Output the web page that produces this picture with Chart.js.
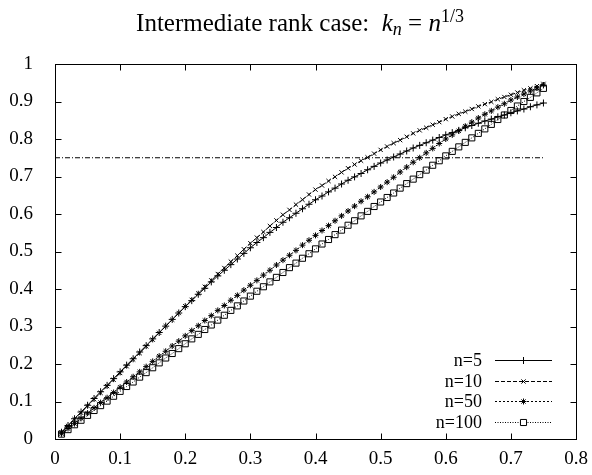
<!DOCTYPE html>
<html>
<head>
<meta charset="utf-8">
<title>Intermediate rank case</title>
<script src="https://cdn.jsdelivr.net/npm/chart.js@4.4.1/dist/chart.umd.min.js"></script>
<style>
  html, body { margin: 0; padding: 0; background: #fff; }
</style>
</head>
<body>
<canvas id="rankChart" width="592" height="475"></canvas>
<script>
// Sample positions (x) shared by all four curves
const xValues = [
  0.01, 0.02, 0.03, 0.04, 0.05, 0.06, 0.07, 0.08, 0.09, 0.10,
  0.11, 0.12, 0.13, 0.14, 0.15, 0.16, 0.17, 0.18, 0.19, 0.20,
  0.21, 0.22, 0.23, 0.24, 0.25, 0.26, 0.27, 0.28, 0.29, 0.30,
  0.31, 0.32, 0.33, 0.34, 0.35, 0.36, 0.37, 0.38, 0.39, 0.40,
  0.41, 0.42, 0.43, 0.44, 0.45, 0.46, 0.47, 0.48, 0.49, 0.50,
  0.51, 0.52, 0.53, 0.54, 0.55, 0.56, 0.57, 0.58, 0.59, 0.60,
  0.61, 0.62, 0.63, 0.64, 0.65, 0.66, 0.67, 0.68, 0.69, 0.70,
  0.71, 0.72, 0.73, 0.74, 0.75
];

// Values
const n5 = [
  0.018, 0.036, 0.054, 0.072, 0.090, 0.108, 0.126, 0.143, 0.161, 0.179,
  0.197, 0.214, 0.232, 0.249, 0.267, 0.284, 0.301, 0.319, 0.336, 0.353,
  0.369, 0.386, 0.402, 0.419, 0.435, 0.450, 0.465, 0.480, 0.495, 0.510,
  0.524, 0.537, 0.551, 0.564, 0.578, 0.590, 0.602, 0.614, 0.626, 0.638,
  0.648, 0.659, 0.669, 0.680, 0.690, 0.699, 0.708, 0.718, 0.727, 0.736,
  0.744, 0.752, 0.760, 0.768, 0.776, 0.783, 0.790, 0.797, 0.804, 0.811,
  0.817, 0.823, 0.830, 0.836, 0.842, 0.848, 0.853, 0.859, 0.864, 0.870,
  0.875, 0.880, 0.886, 0.891, 0.896
];
const n10 = [
  0.018, 0.035, 0.053, 0.070, 0.088, 0.106, 0.123, 0.141, 0.158, 0.176,
  0.194, 0.212, 0.229, 0.247, 0.265, 0.283, 0.301, 0.318, 0.336, 0.354,
  0.371, 0.388, 0.406, 0.423, 0.440, 0.456, 0.473, 0.489, 0.506, 0.522,
  0.537, 0.552, 0.568, 0.583, 0.598, 0.611, 0.625, 0.638, 0.652, 0.665,
  0.676, 0.688, 0.699, 0.711, 0.722, 0.732, 0.742, 0.751, 0.761, 0.771,
  0.780, 0.789, 0.797, 0.806, 0.815, 0.823, 0.830, 0.838, 0.845, 0.853,
  0.860, 0.867, 0.873, 0.880, 0.887, 0.893, 0.899, 0.906, 0.912, 0.918,
  0.924, 0.930, 0.935, 0.941, 0.947
];
const n50 = [
  0.014, 0.028, 0.041, 0.055, 0.069, 0.083, 0.097, 0.110, 0.124, 0.138,
  0.152, 0.166, 0.179, 0.193, 0.207, 0.221, 0.234, 0.248, 0.261, 0.275,
  0.289, 0.302, 0.316, 0.329, 0.343, 0.356, 0.370, 0.383, 0.397, 0.410,
  0.423, 0.437, 0.450, 0.464, 0.477, 0.490, 0.503, 0.517, 0.530, 0.543,
  0.556, 0.569, 0.582, 0.595, 0.608, 0.621, 0.634, 0.646, 0.659, 0.672,
  0.685, 0.698, 0.712, 0.725, 0.738, 0.750, 0.763, 0.775, 0.788, 0.800,
  0.811, 0.822, 0.834, 0.845, 0.856, 0.866, 0.875, 0.885, 0.894, 0.904,
  0.912, 0.920, 0.928, 0.936, 0.944
];
const n100 = [
  0.013, 0.025, 0.038, 0.050, 0.063, 0.076, 0.089, 0.101, 0.114, 0.127,
  0.140, 0.152, 0.165, 0.177, 0.190, 0.203, 0.216, 0.228, 0.241, 0.254,
  0.267, 0.279, 0.292, 0.304, 0.317, 0.330, 0.343, 0.355, 0.368, 0.381,
  0.394, 0.406, 0.419, 0.431, 0.444, 0.457, 0.469, 0.482, 0.494, 0.507,
  0.520, 0.532, 0.545, 0.557, 0.570, 0.582, 0.595, 0.607, 0.620, 0.632,
  0.644, 0.656, 0.669, 0.681, 0.693, 0.705, 0.717, 0.730, 0.742, 0.755,
  0.767, 0.779, 0.791, 0.803, 0.815, 0.827, 0.839, 0.852, 0.864, 0.876,
  0.888, 0.900, 0.911, 0.923, 0.935
];

const seriesLabels = ["n=5", "n=10", "n=50", "n=100"];
const seriesValues = [n5, n10, n50, n100];

// Horizontal reference level and its x extent
const thresholdLevel = [0.75, 0.75];
const thresholdSpan = [0, 0.75];

const xTicks = [0, 0.1, 0.2, 0.3, 0.4, 0.5, 0.6, 0.7, 0.8];
const xTickLabels = ["0", "0.1", "0.2", "0.3", "0.4", "0.5", "0.6", "0.7", "0.8"];
const yTicks = [0, 0.1, 0.2, 0.3, 0.4, 0.5, 0.6, 0.7, 0.8, 0.9, 1];
const yTickLabels = ["0", "0.1", "0.2", "0.3", "0.4", "0.5", "0.6", "0.7", "0.8", "0.9", "1"];

// gnuplot-ish line types
const lineStyles = [
  { dash: [], point: "cross", radius: 3.5 },
  { dash: [4, 2], point: "crossRot", radius: 3 },
  { dash: [2, 2], point: "star", radius: 3 },
  { dash: [1, 1.5], point: "rect", radius: 4.3 }
];

const serif = "'Liberation Serif', 'Times New Roman', serif";

const datasets = seriesValues.map((values, i) => ({
  label: seriesLabels[i],
  data: xValues.map((x, j) => ({ x, y: values[j] })),
  borderColor: "#000",
  borderWidth: 1,
  borderDash: lineStyles[i].dash,
  pointStyle: lineStyles[i].point,
  pointRadius: lineStyles[i].radius,
  pointBorderColor: "#000",
  pointBackgroundColor: "rgba(0,0,0,0)",
  pointBorderWidth: 1,
  tension: 0
}));

datasets.push({
  label: "threshold",
  data: thresholdSpan.map((x, j) => ({ x, y: thresholdLevel[j] })),
  borderColor: "#000",
  borderWidth: 1,
  borderDash: [5, 2, 1, 2],
  pointRadius: 0,
  tension: 0
});

// Frame with inward ticks on all four sides
const frameTicks = {
  id: "frameTicks",
  afterDatasetsDraw(chart) {
    const { ctx, chartArea: a, scales } = chart;
    const len = 6;
    ctx.save();
    ctx.strokeStyle = "#000";
    ctx.lineWidth = 1;
    ctx.setLineDash([]);
    const l = Math.round(a.left) + 0.5, r = Math.round(a.right) + 0.5;
    const t = Math.round(a.top) + 0.5, b = Math.round(a.bottom) + 0.5;
    ctx.strokeRect(l, t, r - l, b - t);
    ctx.beginPath();
    xTicks.forEach(v => {
      const px = Math.round(scales.x.getPixelForValue(v)) + 0.5;
      ctx.moveTo(px, b); ctx.lineTo(px, b - len);
      ctx.moveTo(px, t); ctx.lineTo(px, t + len);
    });
    yTicks.forEach(v => {
      const py = Math.round(scales.y.getPixelForValue(v)) + 0.5;
      ctx.moveTo(l, py); ctx.lineTo(l + len, py);
      ctx.moveTo(r, py); ctx.lineTo(r - len, py);
    });
    ctx.stroke();
    ctx.restore();
  }
};

// Legend: label right-aligned, then the line sample with its marker
const keyBox = {
  id: "keyBox",
  afterDraw(chart) {
    const ctx = chart.ctx;
    const textRight = 482, lineLeft = 495, lineRight = 552;
    const firstRow = 360, rowGap = 20.7;
    ctx.save();
    ctx.font = `18px ${serif}`;
    ctx.textAlign = "right";
    ctx.textBaseline = "middle";
    chart.data.datasets.slice(0, seriesLabels.length).forEach((ds, i) => {
      const y = Math.round(firstRow + i * rowGap) + 0.5;
      ctx.fillStyle = "#000";
      ctx.fillText(ds.label, textRight, y + 1);
      ctx.strokeStyle = "#000";
      ctx.lineWidth = 1;
      ctx.setLineDash(ds.borderDash);
      ctx.beginPath();
      ctx.moveTo(lineLeft, y);
      ctx.lineTo(lineRight, y);
      ctx.stroke();
      ctx.setLineDash([]);
      ctx.fillStyle = "#fff";
      Chart.helpers.drawPoint(ctx, {
        pointStyle: ds.pointStyle,
        radius: ds.pointRadius,
        borderWidth: 1
      }, (lineLeft + lineRight) / 2, y);
    });
    ctx.restore();
  }
};

// Title with a bit of math: k_n = n^{1/3}
const mathTitle = {
  id: "mathTitle",
  afterDraw(chart) {
    const ctx = chart.ctx;
    const size = 25;
    const small = Math.round(size * 0.7);
    const parts = [
      { t: "Intermediate rank case:  ", f: `${size}px ${serif}`, dy: 0 },
      { t: "k", f: `italic ${size}px ${serif}`, dy: 0 },
      { t: "n", f: `italic ${small}px ${serif}`, dy: 4 },
      { t: " = ", f: `${size}px ${serif}`, dy: 0 },
      { t: "n", f: `italic ${size}px ${serif}`, dy: 0 },
      { t: "1/3", f: `${small}px ${serif}`, dy: -9 }
    ];
    ctx.save();
    ctx.fillStyle = "#000";
    ctx.textBaseline = "alphabetic";
    ctx.textAlign = "left";
    let total = 0;
    parts.forEach(p => { ctx.font = p.f; p.w = ctx.measureText(p.t).width; total += p.w; });
    let x = 300 - total / 2;
    const base = 31;
    parts.forEach(p => {
      ctx.font = p.f;
      ctx.fillText(p.t, x, base + p.dy);
      x += p.w;
    });
    ctx.restore();
  }
};

new Chart(document.getElementById("rankChart"), {
  type: "line",
  data: { datasets },
  options: {
    responsive: false,
    animation: false,
    layout: { padding: { top: 64, right: 16, bottom: 0, left: 0 } },
    plugins: {
      legend: { display: false },
      tooltip: { enabled: false },
      title: { display: false }
    },
    scales: {
      x: {
        type: "linear",
        min: 0,
        max: 0.8,
        afterBuildTicks: scale => { scale.ticks = xTicks.map(value => ({ value })); },
        afterFit: scale => {
          scale.height = 36;
          scale.paddingLeft = 0;
          scale.paddingRight = 0;
        },
        grid: { display: false, drawTicks: false },
        border: { display: false },
        ticks: {
          padding: 9,
          color: "#000",
          font: { family: serif, size: 19 },
          maxRotation: 0,
          autoSkip: false,
          callback: (v, i) => xTickLabels[i]
        }
      },
      y: {
        type: "linear",
        min: 0,
        max: 1,
        afterBuildTicks: scale => { scale.ticks = yTicks.map(value => ({ value })); },
        afterFit: scale => {
          scale.width = 55;
          scale.paddingTop = 0;
          scale.paddingBottom = 0;
        },
        grid: { display: false, drawTicks: false },
        border: { display: false },
        ticks: {
          padding: 22,
          color: "#000",
          font: { family: serif, size: 19 },
          autoSkip: false,
          callback: (v, i) => yTickLabels[i]
        }
      }
    }
  },
  plugins: [frameTicks, keyBox, mathTitle]
});
</script>
</body>
</html>
